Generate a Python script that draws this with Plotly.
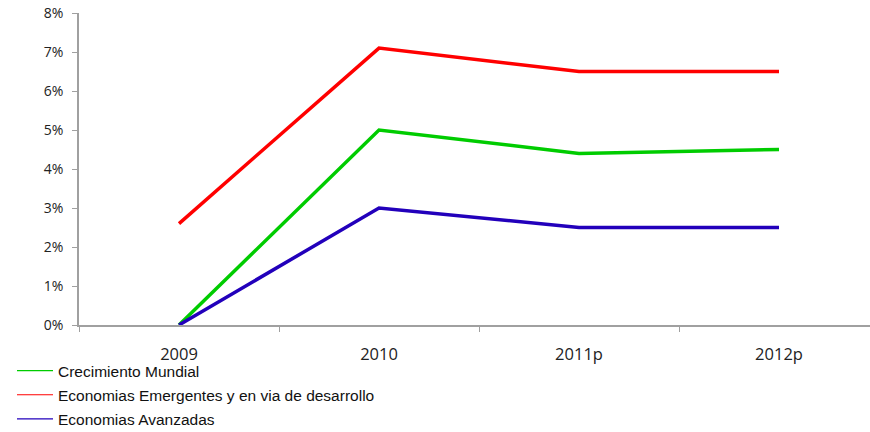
import plotly.graph_objects as go

categories = ["2009", "2010", "2011p", "2012p"]
mundial = [0.0, 0.050, 0.044, 0.045]
emergentes = [0.026, 0.071, 0.065, 0.065]
avanzadas = [0.0, 0.030, 0.025, 0.025]

names = ["Crecimiento Mundial", "Economias Emergentes y en via de desarrollo", "Economias Avanzadas"]
colors = ["#00CC00", "#FF0000", "#2200BB"]
series = [mundial, emergentes, avanzadas]

fig = go.Figure()
for name, col, vals in zip(names, colors, series):
    fig.add_trace(go.Scatter(x=categories, y=vals, mode="lines", name=name,
                             line=dict(color=col, width=3.5), showlegend=False,
                             cliponaxis=False))
for i, (name, col) in enumerate(zip(names, colors)):
    fig.add_trace(go.Scatter(x=[categories[0]], y=[None], mode="lines", name=name,
                             line=dict(color=col, width=1.2), legendgroup=f"g{i}"))

W, H = 870, 432
L, R, T, B = 79, 0, 13, 107
pw = W - L - R
ph = H - T - B

fig.update_layout(
    width=W, height=H,
    margin=dict(l=L, r=R, t=T, b=B, autoexpand=False),
    paper_bgcolor="white", plot_bgcolor="white",
    font=dict(family="Open Sans, Liberation Sans, Arial", size=14, color="#222222"),
    showlegend=True,
    legend=dict(x=(12 - L) / pw, y=(ph - (354 - T)) / ph, xanchor="left", yanchor="top",
                orientation="v", font=dict(family="Liberation Sans, Arial", size=15.5, color="#111111"),
                tracegroupgap=1, bgcolor="rgba(0,0,0,0)", itemwidth=36),
    xaxis=dict(type="category", range=[-0.5, -0.5 + pw / 200.0],
               showgrid=False, showline=True, linecolor="#A0A0A0", linewidth=1.5,
               ticks="outside", tickson="boundaries", ticklen=5, tickcolor="#A0A0A0",
               ticklabelstandoff=13, tickfont=dict(size=16.5)),
    yaxis=dict(range=[0, 0.08], dtick=0.01, tickformat=".0%",
               showgrid=False, showline=True, linecolor="#A0A0A0", linewidth=1.5,
               ticks="outside", ticklen=5, tickcolor="#A0A0A0", zeroline=False,
               ticklabelstandoff=6, tickfont=dict(size=14)),
)

fig.write_html("out.html", post_script="document.body.style.margin='0';",
               config={"displayModeBar": False})
